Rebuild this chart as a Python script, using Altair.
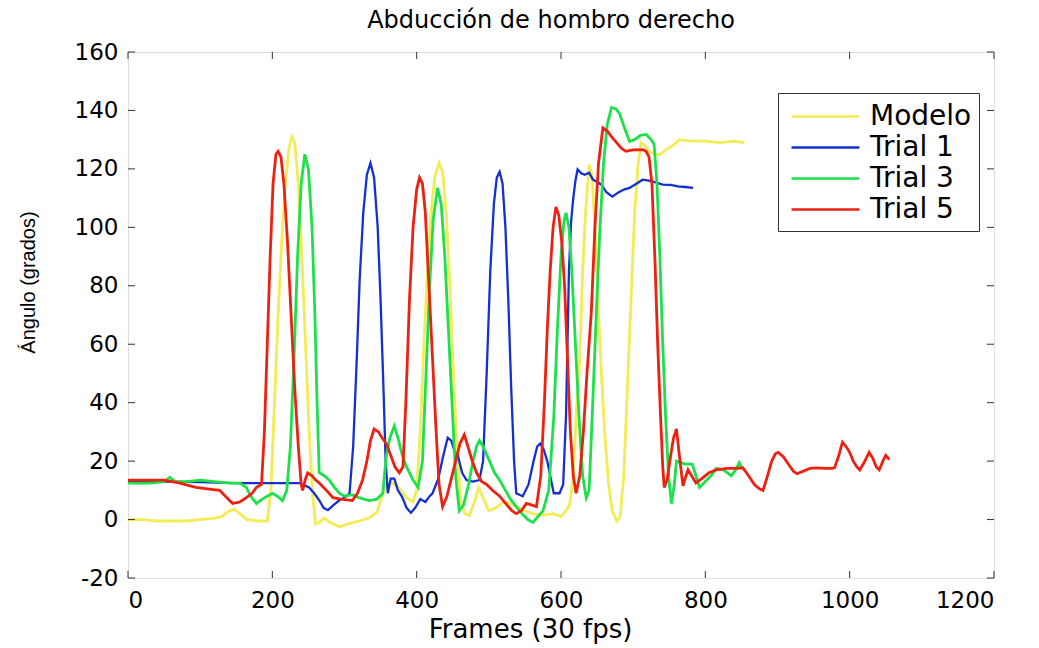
import altair as alt
import pandas as pd

# ---------------- data ----------------
series_names = ["Modelo", "Trial 1", "Trial 3", "Trial 5"]
series_colors = ["#F3EC55", "#1430D2", "#1EE04A", "#EE2010"]

modelo_x = [0, 20, 40, 60, 80, 100, 120, 130, 140, 148, 155, 165, 180, 193, 198, 203, 208, 213, 218, 223,
            227, 231, 236, 241, 246, 251, 256, 260, 265, 272, 280, 293, 305, 320, 334, 345, 352, 358, 366, 375,
            386, 395, 400, 405, 410, 415, 420, 425, 431, 436, 441, 446, 451, 456, 461, 467, 473, 480, 486, 491,
            500, 510, 520, 530, 545, 560, 575, 590, 600, 607, 612, 617, 622, 626, 630, 634, 639, 643, 647, 651,
            656, 661, 666, 671, 677, 682, 687, 692, 697, 702, 707, 711, 716, 722, 730, 738, 748, 755, 764, 780,
            800, 820, 840, 854]
modelo_y = [0, 0, -0.5, -0.5, -0.5, 0, 0.5, 1, 3, 3.5, 2, 0, -0.5, -0.5, 10, 40, 70, 95, 115, 127,
            131, 129, 115, 90, 60, 30, 8, -1.5, -1, 0.5, -1, -2.5, -1.5, -0.5, 0.5, 2.5, 8, 12, 12.5, 11,
            7.5, 6, 10, 30, 60, 85, 105, 117, 122, 119, 105, 80, 50, 25, 6, 2, 1.4, 6, 11, 8,
            3, 4, 6, 5.5, 3.5, 2, 1.5, 2, 1, 3, 5, 15, 40, 55, 85, 105, 121.5, 118, 100, 75,
            50, 28, 12, 3, -0.5, 1, 15, 45, 75, 105, 122, 129, 128, 126, 125, 125, 127, 128, 130, 129.5,
            129.5, 129, 129.5, 129]

trial1_x = [0, 50, 100, 150, 200, 238, 251, 258, 265, 271, 277, 285, 293, 300, 307, 312, 317, 321, 326, 331,
            336, 341, 346, 350, 354, 357, 360, 364, 369, 374, 380, 386, 392, 398, 405, 412, 418, 422, 430, 437,
            443, 448, 453, 457, 463, 469, 478, 487, 492, 497, 502, 507, 511, 515, 519, 523, 527, 531, 535, 538,
            547, 555, 562, 567, 571, 576, 581, 585, 590, 598, 603, 607, 611, 614, 617, 620, 623, 628, 633, 639,
            644, 650, 656, 663, 671, 680, 688, 695, 705, 713, 722, 730, 741, 752, 762, 772, 783]
trial1_y = [13, 13, 12.8, 12.5, 12.5, 12.5, 11, 9, 6.6, 4, 3.2, 5, 6.6, 7.5, 9, 25, 55, 82, 105, 118,
            122, 117, 100, 75, 45, 20, 9, 14, 14, 10, 7.7, 4, 2.3, 4, 7, 6, 8, 9, 14, 22,
            28, 27, 23, 22, 16, 13.5, 13, 13.5, 20, 50, 85, 108, 117, 119, 115, 100, 75, 45, 20, 9,
            8, 12, 20, 25, 26, 24, 20, 15, 9, 9, 12, 36, 85, 102, 110, 116, 119.8, 118.5, 118, 118.7,
            116.4, 115.5, 114.6, 112, 110.5, 112, 113, 113.5, 115, 116.3, 116, 115.5, 114.6, 114.5, 114, 113.8, 113.5]

trial3_x = [0, 30, 50, 58, 65, 80, 100, 120, 140, 155, 164, 170, 178, 186, 193, 200, 207, 214, 220, 225,
            230, 235, 240, 245, 250, 255, 259, 262, 265, 272, 279, 286, 293, 300, 310, 320, 334, 345, 353, 358,
            363, 369, 374, 380, 386, 395, 402, 408, 413, 418, 423, 429, 434, 439, 444, 449, 454, 459, 465, 472,
            478, 483, 487, 492, 501, 508, 515, 523, 530, 538, 546, 554, 561, 568, 575, 583, 590, 595, 600, 604,
            607, 611, 615, 620, 625, 630, 635, 639, 644, 649, 654, 659, 664, 670, 676, 681, 688, 695, 702, 710,
            718, 725, 729, 733, 737, 741, 745, 749, 753, 757, 760, 766, 772, 778, 782, 787, 792, 800, 808, 815,
            825, 836, 842, 847, 850]
trial3_y = [12.5, 12.5, 13, 14.5, 13, 13, 13.5, 13, 12.5, 12.5, 11, 8, 5.5, 7, 8, 9, 8, 6.5, 10, 25,
            55, 90, 115, 125, 120, 100, 70, 40, 16, 15, 13.5, 11, 9, 8, 8.5, 7.5, 6.5, 7, 9, 22,
            28, 32, 28, 22, 18, 13.5, 11, 20, 50, 80, 103, 113.5, 108, 90, 65, 40, 15, 3, 5, 12,
            20, 25, 27, 25, 20, 16, 13.5, 10, 7, 4.4, 2, 0, -1, 1, 3, 10, 35, 65, 90, 102,
            105, 100, 85, 60, 35, 15, 7.4, 10, 40, 71, 100, 122, 135, 141, 140.5, 139, 134, 129.4, 130, 131.5,
            131.8, 130, 128.4, 115, 90, 60, 35, 15, 5.5, 12, 20, 19.5, 19, 19, 19, 15, 11, 13, 15, 17.5,
            17, 15, 17, 19.5, 18]

trial5_x = [0, 30, 50, 72, 94, 110, 127, 135, 145, 155, 164, 172, 178, 185, 189, 193, 197, 201, 205, 208,
            212, 216, 221, 226, 231, 236, 240, 242, 246, 249, 255, 260, 265, 275, 284, 295, 311, 318, 325, 331,
            336, 341, 347, 352, 358, 364, 370, 376, 381, 385, 390, 395, 400, 404, 408, 412, 417, 422, 427, 431,
            436, 442, 448, 454, 460, 466, 471, 477, 483, 490, 497, 505, 515, 525, 532, 538, 545, 552, 559, 566,
            572, 577, 581, 585, 589, 593, 597, 601, 605, 609, 613, 617, 621, 626, 631, 636, 642, 647, 652, 658,
            664, 670, 677, 684, 690, 700, 713, 718, 722, 726, 730, 734, 738, 741, 743, 747, 752, 756, 760, 764,
            769, 772, 776, 781, 787, 795, 805, 815, 830, 842, 852, 860, 868, 875, 880, 885, 892, 897, 901, 908,
            915, 922, 927, 935, 945, 954, 965, 975, 979, 985, 990, 995, 1000, 1005, 1010, 1014, 1020, 1027, 1032, 1037,
            1041, 1046, 1050, 1055]
trial5_y = [13.5, 13.5, 13.5, 12.5, 11, 10.5, 10, 8, 5.5, 6, 7.5, 9, 11, 12, 30, 60, 90, 115, 125, 126,
            124, 115, 95, 70, 45, 25, 12, 10, 14, 16, 15, 13.5, 12.5, 10, 7.5, 7, 6.5, 9, 13.5, 20,
            27, 31, 30, 28, 26, 22, 18, 16, 18, 40, 75, 100, 113, 117, 115, 105, 80, 55, 30, 12,
            4.4, 8, 14, 20, 26, 29, 25, 20, 16, 13, 12, 10, 8, 5, 3, 2, 3, 5.5, 5, 4.4,
            15, 40, 65, 85, 100, 107, 104, 95, 80, 55, 30, 15, 9, 15, 30, 50, 71, 100, 122, 134,
            133, 131, 129, 127, 126, 126.5, 126.6, 126, 124, 115, 90, 60, 35, 18, 11, 13.5, 22, 28, 31, 22,
            11.5, 14, 17, 15, 12.5, 14, 16, 17, 17.5, 17.5, 17.7, 15, 12, 10.5, 10, 14, 20, 22.5, 23, 21.5,
            19, 16.5, 15.7, 16.5, 17.5, 17.7, 17.5, 17.5, 17.7, 22, 26.5, 25, 23, 20, 18, 17, 19.5, 23, 21, 18,
            17, 20, 22, 20.5]

x_ticks = [0, 200, 400, 600, 800, 1000, 1200]
y_ticks = [-20, 0, 20, 40, 60, 80, 100, 120, 140, 160]

# ---------------- layout ----------------
W, H = 866, 526
TICK = 7
FONT = "DejaVu Sans"

xs = alt.Scale(domain=[0, 1200], nice=False, zero=False)
ys = alt.Scale(domain=[-20, 160], nice=False, zero=False)
cs = alt.Scale(domain=series_names, range=series_colors)

xaxis = alt.Axis(values=x_ticks, ticks=False, tickSize=0, domain=False, grid=False,
                 labelExpr="'' + datum.value",
                 labelFont=FONT, labelFontSize=23, labelPadding=11, labelColor="black",
                 title="Frames (30 fps)", titleFont=FONT, titleFontSize=26, titleFontWeight="normal",
                 titleColor="black", titleX=402, titleY=59, titleBaseline="alphabetic")
yaxis = alt.Axis(values=y_ticks, ticks=False, tickSize=0, domain=False, grid=False,
                 labelExpr="'' + datum.value",
                 labelFont=FONT, labelFontSize=23, labelPadding=10, labelColor="black",
                 title="Ángulo (grados)", titleFont="Liberation Sans", titleFontSize=20,
                 titleFontWeight="normal", titleColor="black", titleX=-90, titleY=230)

SYM = 900  # symbol size; custom path stretches the stroke to ~68 px
legend = alt.Legend(orient="none", legendX=650, legendY=41, title=None,
                    fillColor="white", strokeColor="#333", padding=7,
                    symbolType="M-1,0H3.53", symbolSize=SYM, symbolStrokeWidth=2.6,
                    symbolOffset=5,
                    labelFont=FONT, labelFontSize=28, labelColor="black", labelOffset=47,
                    rowPadding=0)

all_x = [modelo_x, trial1_x, trial3_x, trial5_x]
all_y = [modelo_y, trial1_y, trial3_y, trial5_y]
widths = [2.8, 2.3, 2.8, 2.8]

layers = []
for i, name in enumerate(series_names):
    df = pd.DataFrame({"frame": all_x[i], "angle": all_y[i], "serie": name})
    enc = dict(
        x=alt.X("frame:Q", scale=xs, axis=xaxis, title="Frames (30 fps)"),
        y=alt.Y("angle:Q", scale=ys, axis=yaxis, title="Ángulo (grados)"),
        color=alt.Color("serie:N", scale=cs, legend=legend, sort=series_names),
        order=alt.Order("frame:Q"),
    )
    layers.append(alt.Chart(df).mark_line(strokeWidth=widths[i], clip=True).encode(**enc))

xt = pd.DataFrame({"frame": x_ticks})
yt = pd.DataFrame({"angle": y_ticks})
tick_style = dict(color="#333", strokeWidth=1)
bottom = alt.Chart(xt).mark_rule(**tick_style).encode(
    x=alt.X("frame:Q", scale=xs, title="Frames (30 fps)"), y=alt.value(H), y2=alt.value(H - TICK))
top = alt.Chart(xt).mark_rule(**tick_style).encode(
    x=alt.X("frame:Q", scale=xs, title="Frames (30 fps)"), y=alt.value(0), y2=alt.value(TICK))
left = alt.Chart(yt).mark_rule(**tick_style).encode(
    y=alt.Y("angle:Q", scale=ys, title="Ángulo (grados)"), x=alt.value(0), x2=alt.value(TICK))
right = alt.Chart(yt).mark_rule(**tick_style).encode(
    y=alt.Y("angle:Q", scale=ys, title="Ángulo (grados)"), x=alt.value(W), x2=alt.value(W - TICK))

chart = alt.layer(*layers, bottom, top, left, right).properties(
    width=W, height=H,
    title=alt.Title("Abducción de hombro derecho", font=FONT, fontSize=24, fontWeight="normal",
                    color="black", anchor="middle", frame="group", dx=-10, offset=8),
    autosize=alt.AutoSizeParams(type="none"),
    padding={"left": 128, "top": 52, "right": 45, "bottom": 70},
).configure_view(stroke="#333", strokeWidth=1).configure(background="white")

chart.save("out.html", embed_options={"renderer": "svg", "actions": False})
